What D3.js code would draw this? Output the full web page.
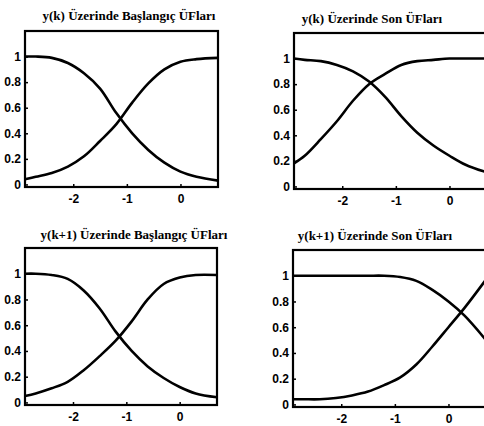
<!DOCTYPE html>
<meta charset="utf-8">

<script src="https://d3js.org/d3.v7.min.js"></script>

<style>
body { margin: 0; background: #ffffff; }
svg { display: block; }
.tick text { font-family: "Liberation Sans", Arial, sans-serif; font-weight: bold; font-size: 12px; }
</style>

<div id="my_dataviz"></div>

<script>

var xSamples = [-2.9, -2.7, -2.4, -2.1, -1.8, -1.5, -1.2, -0.9, -0.6, -0.3, 0, 0.3, 0.7];

// y(k) starting MFs
var p1Falling = [1.0, 1.0, 0.99, 0.95, 0.87, 0.75, 0.56, 0.40, 0.27, 0.17, 0.10, 0.06, 0.03];
var p1Rising  = [0.04, 0.06, 0.09, 0.14, 0.22, 0.34, 0.47, 0.64, 0.79, 0.90, 0.96, 0.98, 0.99];

// y(k) final MFs
var p2Falling = [1.0, 0.99, 0.98, 0.95, 0.90, 0.82, 0.70, 0.55, 0.42, 0.32, 0.24, 0.17, 0.11];
var p2Rising  = [0.18, 0.24, 0.37, 0.51, 0.67, 0.80, 0.88, 0.95, 0.98, 0.99, 1.0, 1.0, 1.0];

// y(k+1) starting MFs
var p3Falling = [1.0, 1.0, 0.99, 0.96, 0.87, 0.73, 0.55, 0.40, 0.28, 0.19, 0.12, 0.07, 0.04];
var p3Rising  = [0.05, 0.07, 0.11, 0.16, 0.25, 0.36, 0.48, 0.63, 0.80, 0.92, 0.97, 0.99, 0.99];

// y(k+1) final MFs
var p4Falling = [1.0, 1.0, 1.0, 1.0, 1.0, 1.0, 1.0, 0.99, 0.96, 0.89, 0.80, 0.69, 0.50];
var p4Rising  = [0.04, 0.04, 0.04, 0.05, 0.07, 0.10, 0.15, 0.21, 0.31, 0.45, 0.60, 0.75, 0.97];

var titles = [
  "y(k) Üzerinde Başlangıç ÜFları",
  "y(k) Üzerinde Son ÜFları",
  "y(k+1) Üzerinde Başlangıç ÜFları",
  "y(k+1) Üzerinde Son ÜFları"
];

var xTicks = [-2, -1, 0];
var yTicks = [0, 0.2, 0.4, 0.6, 0.8, 1];
var xDomain = [-2.9, 0.7];
var yDomain = [-0.02, 1.2];

// frame of each subplot in page pixels (right column runs off the page like the scan)
var panels = [
  {left: 25,  right: 218, top: 31,  bottom: 187, titleX: 129, titleY: 20,  falling: p1Falling, rising: p1Rising},
  {left: 294, right: 487, top: 33,  bottom: 189, titleX: 372, titleY: 23,  falling: p2Falling, rising: p2Rising},
  {left: 25,  right: 217, top: 248, bottom: 405, titleX: 134, titleY: 239, falling: p3Falling, rising: p3Rising},
  {left: 293, right: 486, top: 250, bottom: 407, titleX: 375, titleY: 240, falling: p4Falling, rising: p4Rising}
];

var svg = d3.select("#my_dataviz")
  .append("svg")
    .attr("width", 484)
    .attr("height", 426);

panels.forEach(function(p, i) {

  var x = d3.scaleLinear().domain(xDomain).range([p.left, p.right]);
  var y = d3.scaleLinear().domain(yDomain).range([p.bottom, p.top]);

  // X axis
  svg.append("g")
    .attr("transform", "translate(0," + p.bottom + ")")
    .call(d3.axisBottom(x).tickValues(xTicks).tickSize(-3).tickPadding(7)
      .tickFormat(function(d) { return String(d); }))
    .call(function(g) { g.select(".domain").remove(); })
    .call(function(g) { g.selectAll("line").attr("stroke-width", 1.5); });

  // Y axis
  svg.append("g")
    .attr("transform", "translate(" + p.left + ",0)")
    .call(d3.axisLeft(y).tickValues(yTicks).tickSize(-3).tickPadding(4)
      .tickFormat(function(d) { return d === 0 || d === 1 ? String(d) : d3.format(".1f")(d); }))
    .call(function(g) { g.select(".domain").remove(); })
    .call(function(g) { g.selectAll("line").attr("stroke-width", 1.5); });

  // the curves
  var line = d3.line()
    .x(function(d) { return x(d[0]); })
    .y(function(d) { return y(d[1]); })
    .curve(d3.curveCatmullRom.alpha(0.5));

  [p.falling, p.rising].forEach(function(series) {
    svg.append("path")
      .datum(d3.zip(xSamples, series))
      .attr("fill", "none")
      .attr("stroke", "#000")
      .attr("stroke-width", 2.6)
      .attr("d", line);
  });

  // box
  svg.append("rect")
    .attr("x", p.left)
    .attr("y", p.top)
    .attr("width", p.right - p.left)
    .attr("height", p.bottom - p.top)
    .attr("fill", "none")
    .attr("stroke", "#000")
    .attr("stroke-width", 2.2);

  // title
  svg.append("text")
    .attr("x", p.titleX)
    .attr("y", p.titleY)
    .attr("text-anchor", "middle")
    .attr("font-family", "Liberation Serif, Times New Roman, serif")
    .attr("font-weight", 700)
    .style("font-size", "13px")
    .text(titles[i]);
});

</script>
